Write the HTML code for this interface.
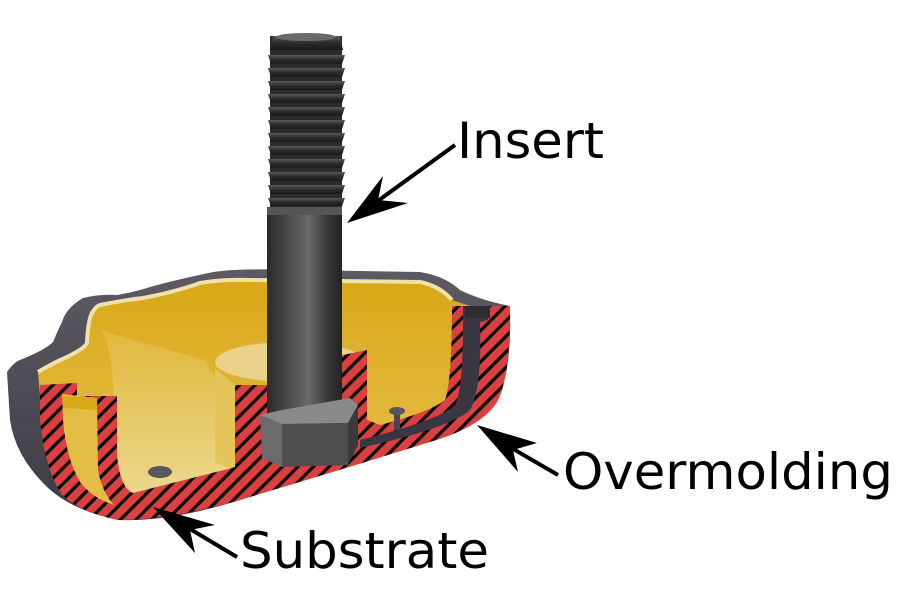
<!DOCTYPE html>
<html><head><meta charset="utf-8"><style>
html,body{margin:0;padding:0;background:#fff;}
svg{display:block;}
text{font-family:"DejaVu Sans","Liberation Sans",sans-serif;fill:#000;}
</style></head><body>
<svg width="912" height="590" viewBox="0 0 912 590" xmlns="http://www.w3.org/2000/svg">
<defs>
<pattern id="hatch" patternUnits="userSpaceOnUse" width="11" height="11" patternTransform="rotate(45)">
<rect width="11" height="11" fill="#d9403f"/>
<rect x="0" y="0" width="3.2" height="11" fill="#000"/>
</pattern>
<linearGradient id="body" x1="0" y1="0" x2="0" y2="1">
<stop offset="0" stop-color="#5d5a63"/><stop offset="1" stop-color="#3e3b44"/>
</linearGradient>
<linearGradient id="yel" x1="0" y1="0" x2="0" y2="1">
<stop offset="0" stop-color="#d9a818"/><stop offset="0.6" stop-color="#e2b73a"/><stop offset="1" stop-color="#ead590"/>
</linearGradient>
<linearGradient id="pocket" x1="0" y1="0" x2="0" y2="1">
<stop offset="0" stop-color="#e0b83a"/><stop offset="1" stop-color="#ecd88f"/>
</linearGradient>
<linearGradient id="shaft" x1="0" y1="0" x2="1" y2="0">
<stop offset="0" stop-color="#2a2a2c"/><stop offset="0.3" stop-color="#4c4c4e"/><stop offset="0.55" stop-color="#6a6a6c"/><stop offset="0.8" stop-color="#3a3a3c"/><stop offset="1" stop-color="#222"/>
</linearGradient>
<linearGradient id="thr" x1="0" y1="0" x2="0" y2="1">
<stop offset="0" stop-color="#5a5a5c"/><stop offset="0.5" stop-color="#2b2b2d"/><stop offset="1" stop-color="#1a1a1c"/>
</linearGradient>
</defs>

<!-- outer dark body -->
<path d="M7,372 Q14,362 20,360 Q45,350 53,342 Q58,330 62,322 Q66,308 83,298 Q100,294 117,295 Q135,292 150,287 Q175,280 213,272 Q240,268 300,270 L420,272 Q445,276 460,290 Q480,300 510,306 Q512,380 495,400 Q480,425 430,440 Q340,468 240,500 Q170,522 118,520 Q70,510 45,485 Q15,455 10,420 Z" fill="url(#body)"/>
<!-- yellow rim / interior -->
<path d="M38,372 Q55,362 67,357 Q85,348 87,343 Q88,320 92,313 Q96,306 100,305 Q125,300 143,298 Q175,292 200,283 Q225,279 250,280 L420,282 Q440,286 452,300 L470,306 L470,420 L357,448 L235,480 L110,508 L40,395 Z" fill="url(#yel)"/>
<path d="M38,372 Q55,362 67,357 Q85,348 87,343 Q88,320 92,313 Q96,306 100,305 Q125,300 143,298 Q175,292 200,283 Q225,279 250,280 L420,282 Q440,286 452,300" fill="none" stroke="#efe1a8" stroke-width="4"/>
<!-- left pocket -->
<path d="M100,330 Q112,345 114,400 L117,470 L135,495 L232,470 L232,400 Q215,380 205,360 Q150,345 100,330 Z" fill="url(#pocket)"/>
<!-- boss -->
<path d="M215,370 Q215,345 260,340 L360,340 Q368,345 367,360 L367,420 L235,470 L215,462 Z" fill="#dcb232"/>
<ellipse cx="290" cy="362" rx="75" ry="20" fill="#ead28a"/>
<path d="M215,368 L215,462 L235,470 L235,385 Z" fill="#e5c45a"/>

<!-- red hatched section -->
<path d="M40,385 L77,383 L77,396 L97,396 L117,396 L117,455 Q120,488 133,493 L228,469 L235,467 L235,385 L268,385 L268,358 L338,356 L367,350 L367,420 L380,425 Q430,412 445,400 Q452,380 452,306 L510,306 Q510,385 495,405 Q478,428 430,442 Q340,470 240,500 Q170,520 118,520 Q80,512 62,495 Q45,470 40,420 Z" fill="url(#hatch)"/>
<!-- yellow groove left -->
<path d="M62,394 L97,398 L98,470 Q102,492 114,505 Q92,498 80,482 Q66,458 63,420 Z" fill="#e3bc44"/>
<path d="M62,396 L97,398 L97,410 L63,408 Z" fill="#d9a818"/>
<!-- dark pocket right -->
<path d="M463,306 L488,306 L488,320 L480,322 Q482,390 470,410 Q450,428 360,448 L360,440 Q440,420 455,405 Q463,390 463,320 Z" fill="#3b3742"/>
<path d="M465,306 L490,306 L490,318 L465,318 Z" fill="#2f2c35"/>
<!-- pins -->
<ellipse cx="160" cy="472" rx="12" ry="6" fill="#5a5660"/>
<rect x="394" y="412" width="6" height="18" fill="#4a4650"/>
<ellipse cx="397" cy="411" rx="8" ry="4" fill="#5a5660"/>

<!-- bolt threads -->
<rect x="270" y="36" width="72" height="172" fill="#2c2c2e"/>
<g fill="url(#thr)">
<path d="M273,36 L340,36 L343,50 L270,50 Z"/>
<path d="M268,55 L345,55 L342,64 L271,64 Z"/><path d="M268,68 L345,68 L342,77 L271,77 Z"/>
<path d="M268,81 L345,81 L342,90 L271,90 Z"/><path d="M268,94 L345,94 L342,103 L271,103 Z"/>
<path d="M268,107 L345,107 L342,116 L271,116 Z"/><path d="M268,120 L345,120 L342,129 L271,129 Z"/>
<path d="M268,133 L345,133 L342,142 L271,142 Z"/><path d="M268,146 L345,146 L342,155 L271,155 Z"/>
<path d="M268,159 L345,159 L342,168 L271,168 Z"/><path d="M268,172 L345,172 L342,181 L271,181 Z"/>
<path d="M268,185 L345,185 L342,194 L271,194 Z"/><path d="M268,198 L345,198 L342,206 L271,206 Z"/>
</g>
<ellipse cx="306" cy="37" rx="30" ry="4" fill="#6a6a6c"/>
<!-- shaft -->
<rect x="267" y="207" width="75" height="225" fill="url(#shaft)"/>
<rect x="267" y="207" width="75" height="8" fill="#555"/>
<!-- hex nut -->
<path d="M260,415 L282,410 L350,398 L358,405 L348,423 L282,424 Z" fill="#8a8a8c"/>
<path d="M260,415 L282,424 L282,467 L262,458 Z" fill="#6b6b6d"/>
<path d="M282,424 L348,423 L348,465 L282,467 Z" fill="#4e4e50"/>
<path d="M348,423 L358,405 L358,445 L348,465 Z" fill="#3a3a3c"/>

<!-- arrows -->
<g fill="#000" stroke="#000">
<line x1="455" y1="145" x2="375" y2="203" stroke-width="4"/>
<path d="M347,223 L383,176 L378,200 L408,203 Z" stroke="none"/>
<line x1="558" y1="475" x2="508" y2="446" stroke-width="4"/>
<path d="M477,425 L537,443 L513,450 L518,472 Z" stroke="none"/>
<line x1="237" y1="557" x2="185" y2="526" stroke-width="4"/>
<path d="M153,507 L215,525 L190,530 L195,553 Z" stroke="none"/>
</g>

<text x="457" y="158" font-size="50" textLength="147" lengthAdjust="spacingAndGlyphs">Insert</text>
<text x="563" y="489" font-size="50" textLength="330" lengthAdjust="spacingAndGlyphs">Overmolding</text>
<text x="240" y="568" font-size="50" textLength="249" lengthAdjust="spacingAndGlyphs">Substrate</text>
</svg>
</body></html>
